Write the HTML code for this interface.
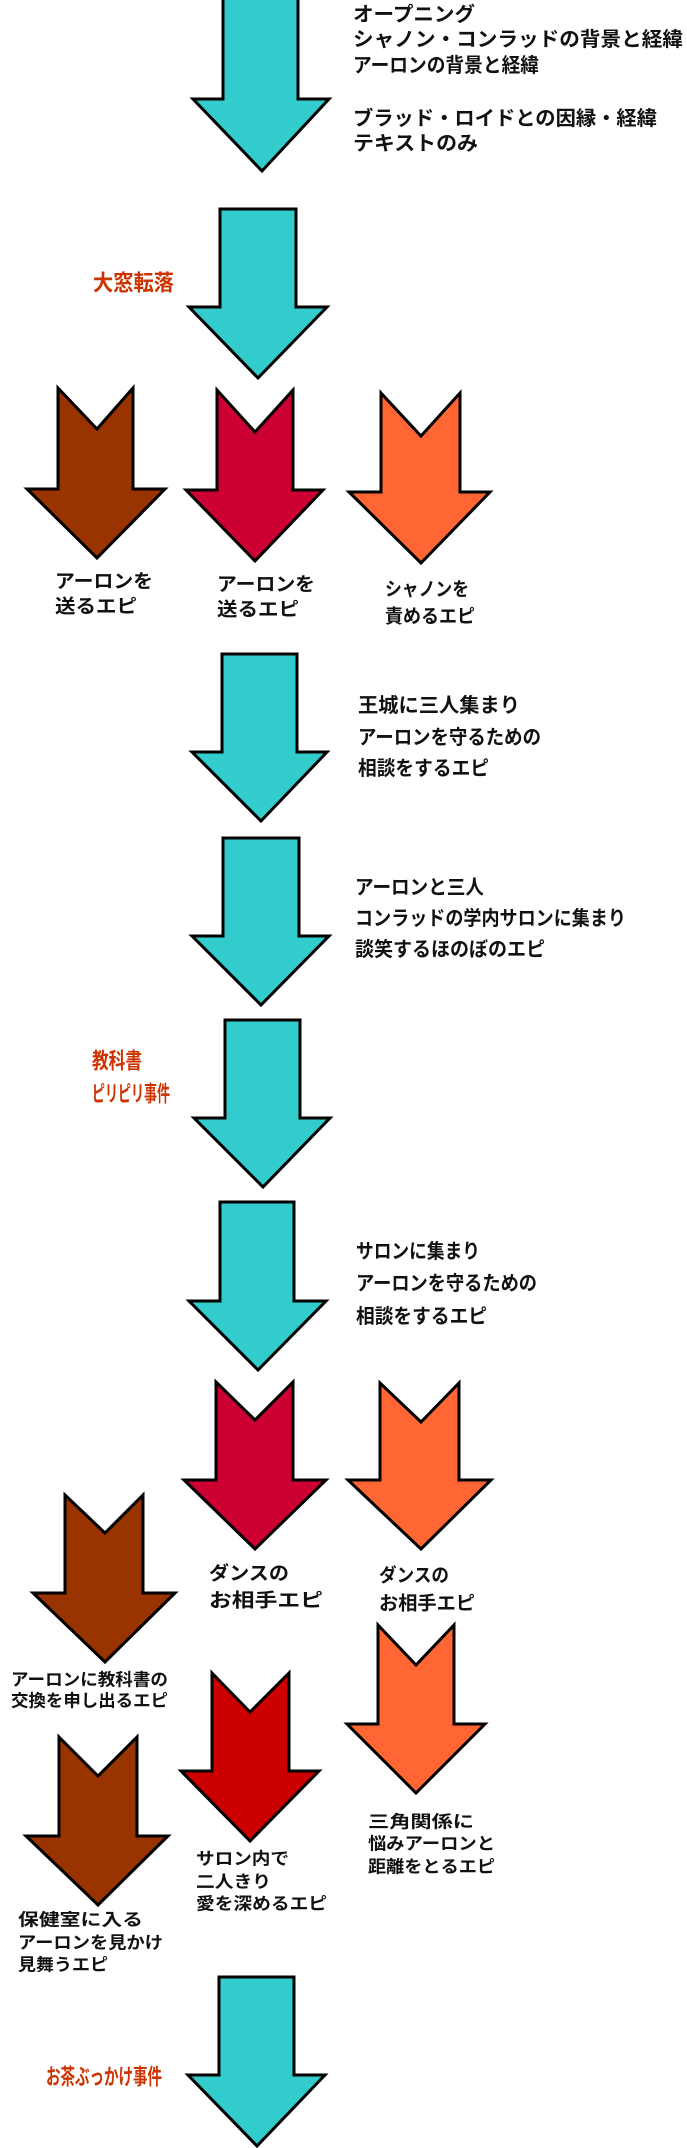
<!DOCTYPE html>
<html><head><meta charset="utf-8"><style>
html,body{margin:0;padding:0;background:#fff;}
svg{display:block;}
text{font-family:"Liberation Sans","Noto Sans CJK JP",sans-serif;font-weight:bold;fill:#111;dominant-baseline:central;}
.r{fill:#cc3300;}
</style></head><body>
<svg width="687" height="2148" viewBox="0 0 687 2148" xmlns="http://www.w3.org/2000/svg">
<g stroke="#000" stroke-width="3" stroke-linejoin="miter">
<!-- plain cyan arrows -->
<polygon fill="#33cccc" points="223,-2 298,-2 298,99 329,99 262,171 193,99 223,99"/>
<polygon fill="#33cccc" points="220,209 296,209 296,307 327,307 258,378 189,307 220,307"/>
<polygon fill="#33cccc" points="222,654 297,654 297,752 327,752 261,821 192,752 222,752"/>
<polygon fill="#33cccc" points="223,838 299,838 299,936 329,936 261,1005 192,936 223,936"/>
<polygon fill="#33cccc" points="225,1020 300,1020 300,1118 330,1118 263,1187 194,1118 225,1118"/>
<polygon fill="#33cccc" points="220,1202 294,1202 294,1301 326,1301 258,1370 189,1301 220,1301"/>
<polygon fill="#33cccc" points="219,1977 294,1977 294,2075 325,2075 257,2146 188,2075 219,2075"/>
<!-- row 3 chevrons -->
<polygon fill="#993300" points="58,388 97,429 133,388 133,489 165,489 97,558 27,489 58,489"/>
<polygon fill="#cc0033" points="217,390 255,432 293,390 293,490 323,490 255,561 186,490 217,490"/>
<polygon fill="#ff6633" points="381,393 421,436 460,393 460,492 490,492 421,563 349,492 381,492"/>
<!-- lower chevrons -->
<polygon fill="#cc0033" points="216,1382 255,1420 293,1382 293,1480 326,1480 255,1549 184,1480 216,1480"/>
<polygon fill="#ff6633" points="380,1383 421,1422 459,1383 459,1480 491,1480 421,1549 348,1480 380,1480"/>
<polygon fill="#993300" points="65,1495 105,1533 143,1495 143,1593 175,1593 105,1662 33,1593 65,1593"/>
<polygon fill="#cc0000" points="212,1673 250,1712 289,1673 289,1771 319,1771 250,1841 181,1771 212,1771"/>
<polygon fill="#ff6633" points="378,1625 416,1665 454,1625 454,1724 485,1724 416,1793 347,1724 378,1724"/>
<polygon fill="#993300" points="59,1737 98,1776 137,1737 137,1836 168,1836 98,1905 26,1836 59,1836"/>
</g>

<!-- top text block -->
<g font-size="20">
<text x="353" y="15" textLength="122" lengthAdjust="spacingAndGlyphs">オープニング</text>
<text x="353" y="40" textLength="330" lengthAdjust="spacingAndGlyphs">シャノン・コンラッドの背景と経緯</text>
<text x="353" y="66" textLength="186" lengthAdjust="spacingAndGlyphs">アーロンの背景と経緯</text>
<text x="353" y="119" textLength="304" lengthAdjust="spacingAndGlyphs">ブラッド・ロイドとの因縁・経緯</text>
<text x="353" y="144" textLength="125" lengthAdjust="spacingAndGlyphs">テキストのみ</text>

<text x="358" y="706" textLength="162" lengthAdjust="spacingAndGlyphs">王城に三人集まり</text>
<text x="358" y="738" textLength="183" lengthAdjust="spacingAndGlyphs">アーロンを守るための</text>
<text x="358" y="769" textLength="131" lengthAdjust="spacingAndGlyphs">相談をするエピ</text>

<text x="355" y="888" textLength="129" lengthAdjust="spacingAndGlyphs">アーロンと三人</text>
<text x="355" y="919" textLength="271" lengthAdjust="spacingAndGlyphs">コンラッドの学内サロンに集まり</text>
<text x="355" y="950" textLength="190" lengthAdjust="spacingAndGlyphs">談笑するほのぼのエピ</text>

<text x="356" y="1252" textLength="124" lengthAdjust="spacingAndGlyphs">サロンに集まり</text>
<text x="356" y="1284" textLength="181" lengthAdjust="spacingAndGlyphs">アーロンを守るための</text>
<text x="356" y="1317" textLength="131" lengthAdjust="spacingAndGlyphs">相談をするエピ</text>
</g>

<!-- red labels -->
<g font-size="22">
<text class="r" x="93" y="283" textLength="81" lengthAdjust="spacingAndGlyphs">大窓転落</text>
<text class="r" x="92" y="1061" textLength="50" lengthAdjust="spacingAndGlyphs">教科書</text>
<text class="r" x="92" y="1094" textLength="78" lengthAdjust="spacingAndGlyphs">ピリピリ事件</text>
<text class="r" x="46" y="2077" textLength="116" lengthAdjust="spacingAndGlyphs">お茶ぶっかけ事件</text>
</g>

<!-- arrow labels -->
<g font-size="19">
<text x="55" y="582" textLength="98" lengthAdjust="spacingAndGlyphs">アーロンを</text>
<text x="55" y="607" textLength="82" lengthAdjust="spacingAndGlyphs">送るエピ</text>
<text x="217" y="585" textLength="98" lengthAdjust="spacingAndGlyphs">アーロンを</text>
<text x="217" y="610" textLength="82" lengthAdjust="spacingAndGlyphs">送るエピ</text>
<text x="385" y="590" textLength="84" lengthAdjust="spacingAndGlyphs">シャノンを</text>
<text x="385" y="617" textLength="90" lengthAdjust="spacingAndGlyphs">責めるエピ</text>

<text x="209" y="1574" textLength="80" lengthAdjust="spacingAndGlyphs">ダンスの</text>
<text x="209" y="1601" textLength="114" lengthAdjust="spacingAndGlyphs">お相手エピ</text>
<text x="379" y="1576" textLength="70" lengthAdjust="spacingAndGlyphs">ダンスの</text>
<text x="379" y="1604" textLength="96" lengthAdjust="spacingAndGlyphs">お相手エピ</text>
</g>
<g font-size="17">
<text x="11" y="1680" textLength="157" lengthAdjust="spacingAndGlyphs">アーロンに教科書の</text>
<text x="11" y="1701" textLength="157" lengthAdjust="spacingAndGlyphs">交換を申し出るエピ</text>

<text x="196" y="1859" textLength="93" lengthAdjust="spacingAndGlyphs">サロン内で</text>
<text x="196" y="1882" textLength="75" lengthAdjust="spacingAndGlyphs">二人きり</text>
<text x="196" y="1904" textLength="131" lengthAdjust="spacingAndGlyphs">愛を深めるエピ</text>

<text x="368" y="1822" textLength="106" lengthAdjust="spacingAndGlyphs">三角関係に</text>
<text x="368" y="1844" textLength="127" lengthAdjust="spacingAndGlyphs">悩みアーロンと</text>
<text x="368" y="1867" textLength="127" lengthAdjust="spacingAndGlyphs">距離をとるエピ</text>

<text x="18" y="1920" textLength="125" lengthAdjust="spacingAndGlyphs">保健室に入る</text>
<text x="18" y="1943" textLength="145" lengthAdjust="spacingAndGlyphs">アーロンを見かけ</text>
<text x="18" y="1965" textLength="90" lengthAdjust="spacingAndGlyphs">見舞うエピ</text>
</g>
</svg>
</body></html>
